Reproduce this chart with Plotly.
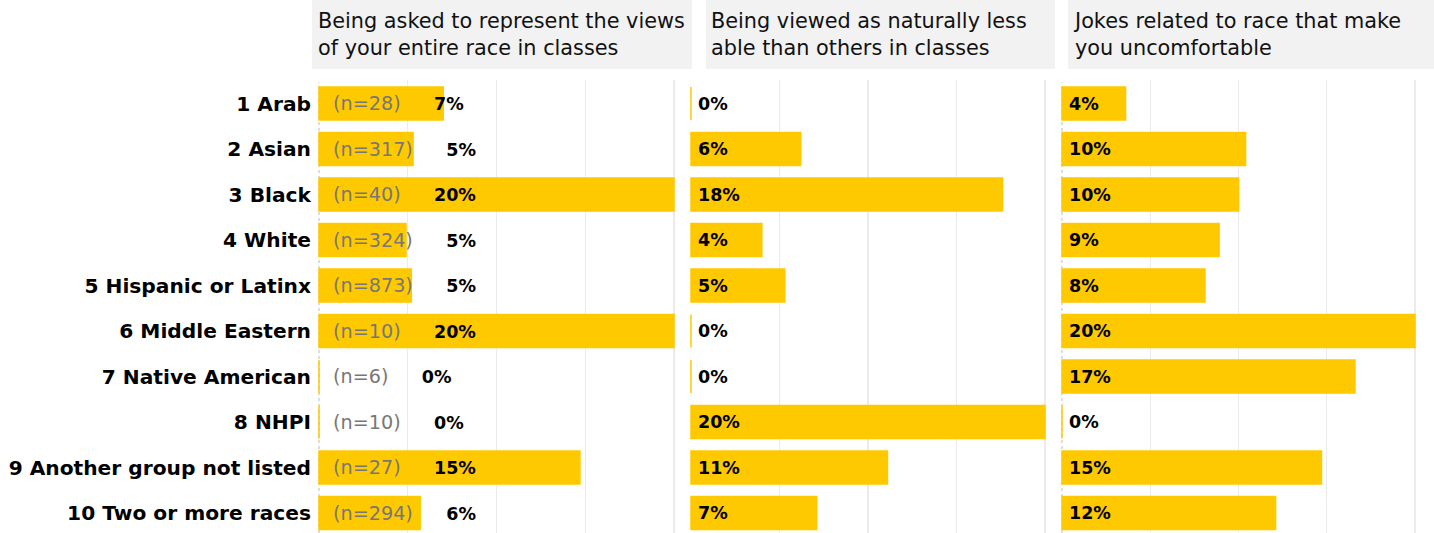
import plotly.graph_objects as go

W, H = 1434, 533

groups = ["1 Arab", "2 Asian", "3 Black", "4 White", "5 Hispanic or Latinx",
          "6 Middle Eastern", "7 Native American", "8 NHPI",
          "9 Another group not listed", "10 Two or more races"]
n_counts = [28, 317, 40, 324, 873, 10, 6, 10, 27, 294]

titles = ["Being asked to represent the views<br>of your entire race in classes",
          "Being viewed as naturally less<br>able than others in classes",
          "Jokes related to race that make<br>you uncomfortable"]

represent_views = [7.0, 5.3, 20.0, 4.9, 5.2, 20.0, 0.0, 0.0, 14.7, 5.7]
viewed_less_able = [0.0, 6.2, 17.6, 4.0, 5.3, 0.0, 0.0, 20.0, 11.1, 7.1]
race_jokes = [3.6, 10.4, 10.0, 8.9, 8.1, 20.0, 16.6, 0.0, 14.7, 12.1]

series = [represent_views, viewed_less_able, race_jokes]

BAR = "#FFC900"
FONT = "DejaVu Sans"

# panel geometry in pixels: (domain left, domain right, zero px, px per unit)
panels = [(312, 692, 319, 17.75), (684, 1055, 691, 17.7), (1055, 1434, 1062, 17.65)]
headers = [(312, 692, 316), (706, 1055, 709), (1068, 1434, 1071)]

rows = list(range(1, len(groups) + 1))

fig = go.Figure()
for i, vals in enumerate(series):
    ax = "" if i == 0 else str(i + 1)
    fig.add_trace(go.Bar(
        x=vals, y=rows, orientation="h", xaxis="x" + ax, yaxis="y",
        marker=dict(color=BAR, line=dict(color=BAR, width=1.5)),
        width=0.72, showlegend=False, hoverinfo="skip"))

layout = dict(
    width=W, height=H, margin=dict(l=0, r=0, t=0, b=0),
    paper_bgcolor="white", plot_bgcolor="white",
    font=dict(family=FONT, color="black"),
    bargap=0.28,
)

y_top_px, y_bot_px = 80, 533
unit = 45.5
center1 = 103.5
y_lo = 1 - (center1 - y_top_px) / unit
y_hi = 1 + (y_bot_px - center1) / unit
layout["yaxis"] = dict(
    domain=[1 - y_bot_px / H, 1 - y_top_px / H],
    range=[y_hi, y_lo], tickmode="array", tickvals=rows, ticktext=groups,
    tickfont=dict(family=FONT, size=20.2, color="black", weight="bold"),
    showgrid=False, zeroline=False, showline=False, ticks="",
    anchor="x", ticklabelstandoff=0,
)

shapes = []
annotations = []
for i, (d0, d1, z, ppu) in enumerate(panels):
    key = "xaxis" if i == 0 else f"xaxis{i+1}"
    xr = "x" if i == 0 else f"x{i+1}"
    lo = -(z - d0) / ppu
    hi = (d1 - z) / ppu
    layout[key] = dict(
        domain=[d0 / W, d1 / W], range=[lo, hi], anchor="y",
        tickmode="array", tickvals=[5, 10, 15, 20], showticklabels=False,
        showgrid=True, gridcolor="#EBEBEB", gridwidth=1.3,
        zeroline=False, showline=False, ticks="",
    )
    # dotted zero line
    shapes.append(dict(type="line", xref=xr, yref="y domain", x0=0, x1=0,
                       y0=0, y1=0.995, layer="below",
                       line=dict(color="#BBBBBB", width=1, dash="dot")))
    # header strip
    h0, h1, tx = headers[i]
    shapes.append(dict(type="rect", xref="paper", yref="paper",
                       x0=h0 / W, x1=h1 / W, y0=1 - 69 / H, y1=1.0,
                       fillcolor="#F2F2F2", line=dict(width=0), layer="below"))
    annotations.append(dict(xref="paper", yref="paper", x=tx / W, y=1 - 7 / H,
                            xanchor="left", yanchor="top", align="left",
                            text=titles[i], showarrow=False,
                            font=dict(family=FONT, size=20.8, color="#111111")))
    vals = series[i]
    for r, v, nn in zip(rows, vals, n_counts):
        pct = f"<b>{v:.0f}%</b>"
        if i == 0:
            txt = (f"<span style='color:#777777;font-size:19.2px'>(n={nn})</span>"
                   + "&nbsp;" * 6 + pct)
            xs = 12
        else:
            txt = pct
            xs = 5
        annotations.append(dict(xref=xr, yref="y", x=0, y=r, xanchor="left",
                                yanchor="middle", xshift=xs, text=txt,
                                showarrow=False,
                                font=dict(family=FONT, size=17.5, color="black")))

layout["shapes"] = shapes
layout["annotations"] = annotations
fig.update_layout(**layout)
fig.write_html("out.html", config={"displayModeBar": False, "staticPlot": True},
               post_script="document.body.style.margin='0';document.body.style.padding='0';")
